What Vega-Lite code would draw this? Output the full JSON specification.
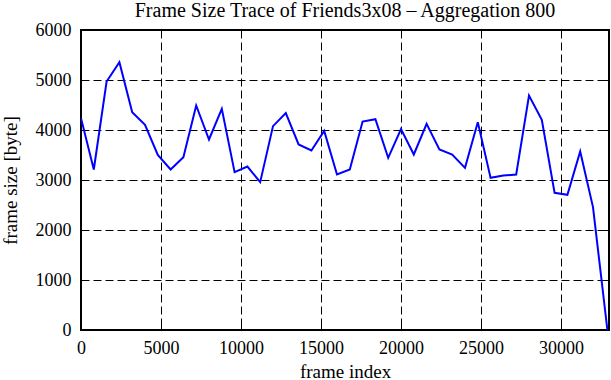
{
  "$schema": "https://vega.github.io/schema/vega-lite/v6.json",
  "width": 528,
  "height": 300,
  "autosize": {"type": "none"},
  "padding": {"left": 81, "top": 30, "right": 2, "bottom": 50},
  "background": "white",
  "title": {
    "text": "Frame Size Trace of Friends3x08 \u2013 Aggregation 800",
    "font": "Liberation Serif",
    "fontSize": 20,
    "fontWeight": "normal",
    "color": "black",
    "offset": 0
  },
  "config": {
    "view": {"stroke": "black", "strokeWidth": 2},
    "axis": {
      "labelFont": "Liberation Serif",
      "titleFont": "Liberation Serif",
      "labelFontSize": 18,
      "titleFontSize": 19,
      "titleFontWeight": "normal",
      "labelColor": "black",
      "titleColor": "black",
      "domain": false,
      "tickColor": "black",
      "tickWidth": 1,
      "gridColor": "black",
      "gridDash": [8, 4],
      "gridWidth": 1,
      "gridOpacity": 1
    }
  },
  "data": {
    "values": [
      {"frame": 0, "size": 4236},
      {"frame": 800, "size": 3210},
      {"frame": 1600, "size": 4970},
      {"frame": 2400, "size": 5357},
      {"frame": 3200, "size": 4357},
      {"frame": 4000, "size": 4103},
      {"frame": 4800, "size": 3503},
      {"frame": 5600, "size": 3210},
      {"frame": 6400, "size": 3457},
      {"frame": 7200, "size": 4490},
      {"frame": 8000, "size": 3810},
      {"frame": 8800, "size": 4423},
      {"frame": 9600, "size": 3157},
      {"frame": 10400, "size": 3270},
      {"frame": 11200, "size": 2957},
      {"frame": 12000, "size": 4077},
      {"frame": 12800, "size": 4337},
      {"frame": 13600, "size": 3710},
      {"frame": 14400, "size": 3590},
      {"frame": 15200, "size": 3983},
      {"frame": 16000, "size": 3110},
      {"frame": 16800, "size": 3210},
      {"frame": 17600, "size": 4170},
      {"frame": 18400, "size": 4217},
      {"frame": 19200, "size": 3443},
      {"frame": 20000, "size": 4017},
      {"frame": 20800, "size": 3510},
      {"frame": 21600, "size": 4123},
      {"frame": 22400, "size": 3610},
      {"frame": 23200, "size": 3510},
      {"frame": 24000, "size": 3243},
      {"frame": 24800, "size": 4157},
      {"frame": 25600, "size": 3043},
      {"frame": 26400, "size": 3090},
      {"frame": 27200, "size": 3110},
      {"frame": 28000, "size": 4690},
      {"frame": 28800, "size": 4203},
      {"frame": 29600, "size": 2743},
      {"frame": 30400, "size": 2703},
      {"frame": 31200, "size": 3570},
      {"frame": 32000, "size": 2457},
      {"frame": 32900, "size": 0}
    ]
  },
  "layer": [
    {
      "mark": {"type": "line", "color": "#0000ff", "strokeWidth": 2, "clip": true},
      "encoding": {
        "x": {
          "field": "frame", "type": "quantitative",
          "scale": {"domain": [0, 33000], "nice": false, "zero": true},
          "axis": {
            "title": "frame index",
            "values": [0, 5000, 10000, 15000, 20000, 25000, 30000],
            "format": "d",
            "tickSize": -6,
            "labelPadding": 15,
            "titlePadding": 5,
            "grid": true,
            "labelFlush": false
          }
        },
        "y": {
          "field": "size", "type": "quantitative",
          "scale": {"domain": [0, 6000], "nice": false},
          "axis": {
            "title": "frame size [byte]",
            "values": [0, 1000, 2000, 3000, 4000, 5000, 6000],
            "format": "d",
            "tickSize": -6,
            "labelPadding": 16,
            "titlePadding": 15,
            "grid": true,
            "labelFlush": false
          }
        }
      }
    },
    {
      "mark": {"type": "line", "opacity": 0},
      "encoding": {
        "x": {
          "field": "frame", "type": "quantitative",
          "axis": {
            "orient": "top", "title": null, "labels": false, "grid": false,
            "values": [0, 5000, 10000, 15000, 20000, 25000, 30000],
            "tickSize": -6, "minExtent": 0, "maxExtent": 0
          }
        },
        "y": {
          "field": "size", "type": "quantitative",
          "axis": {
            "orient": "right", "title": null, "labels": false, "grid": false,
            "values": [0, 1000, 2000, 3000, 4000, 5000, 6000],
            "tickSize": -6, "minExtent": 0, "maxExtent": 0
          }
        }
      }
    }
  ],
  "resolve": {"axis": {"x": "independent", "y": "independent"}}
}
